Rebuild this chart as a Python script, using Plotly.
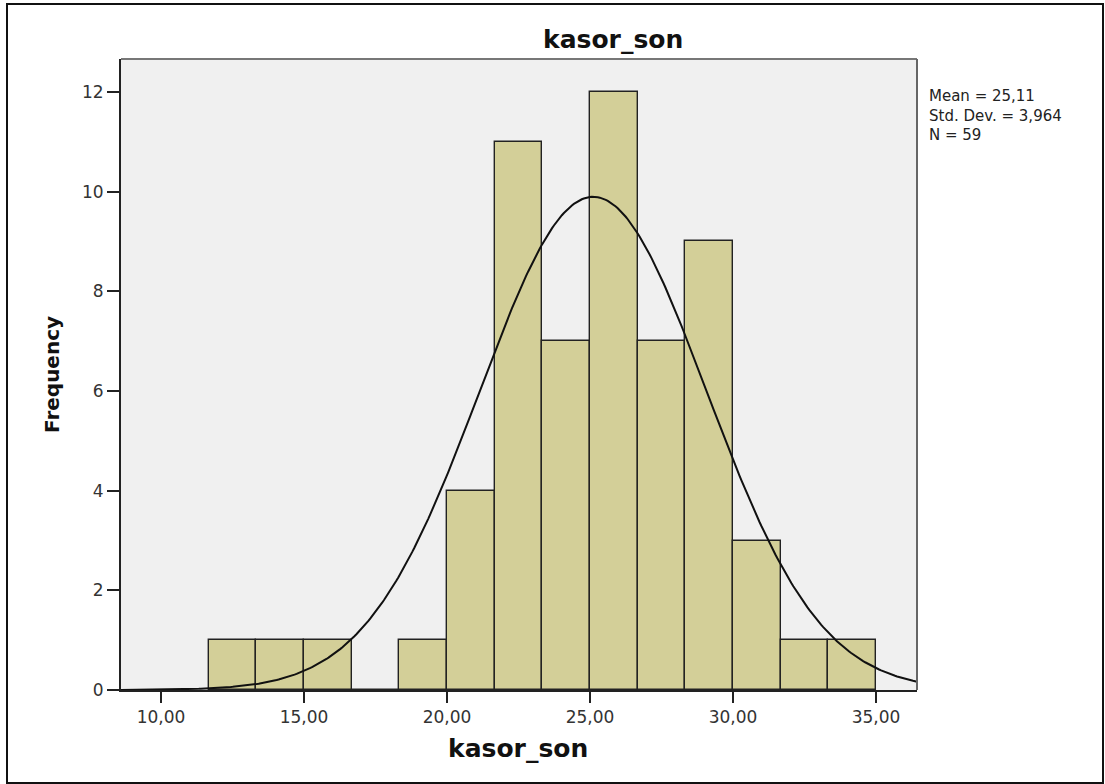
import numpy as np
import plotly.graph_objects as go

# ---- data ----
bin_edges = [11.6667, 13.3333, 15.0, 16.6667, 18.3333, 20.0, 21.6667,
             23.3333, 25.0, 26.6667, 28.3333, 30.0, 31.6667, 33.3333, 35.0]
counts = [1, 1, 1, 0, 1, 4, 11, 7, 12, 7, 9, 3, 1, 1]
x_tick_vals = [10, 15, 20, 25, 30, 35]
x_tick_text = ["10,00", "15,00", "20,00", "25,00", "30,00", "35,00"]
y_tick_vals = [0, 2, 4, 6, 8, 10, 12]
y_tick_text = ["0", "2", "4", "6", "8", "10", "12"]
stats_mean = 25.11
stats_sd = 3.964
stats_n = 59
stat_lines = ["Mean = 25,11", "Std. Dev. = 3,964", "N = 59"]
title_text = "kasor_son"
x_title = "kasor_son"
y_title = "Frequency"

# ---- geometry ----
W, H = 1105, 784
PL, PR, PT, PB = 121, 917, 59, 690
x_range = [8.601, 36.434]
y_range = [0, 12.662]

def px(xp):
    return (xp - PL) / (PR - PL)

def py(yp):
    return (PB - yp) / (PB - PT)

edges = np.array(bin_edges)
centers = (edges[:-1] + edges[1:]) / 2
widths = edges[1:] - edges[:-1]
bw = float(np.mean(widths))

xs = np.linspace(x_range[0], x_range[1], 400)
ys = stats_n * bw * np.exp(-0.5 * ((xs - stats_mean) / stats_sd) ** 2) / (stats_sd * np.sqrt(2 * np.pi))

fig = go.Figure()
fig.add_trace(go.Bar(
    x=centers, y=counts, width=widths,
    marker=dict(color="#d3cf98", line=dict(color="#222222", width=1.4)),
    hoverinfo="x+y", showlegend=False,
))
fig.add_trace(go.Scatter(
    x=xs, y=ys, mode="lines",
    line=dict(color="#111111", width=2),
    hoverinfo="skip", showlegend=False,
))

fig.update_layout(
    width=W, height=H,
    margin=dict(l=PL, r=W - PR, t=PT, b=H - PB, pad=0),
    paper_bgcolor="white",
    plot_bgcolor="#f0f0f0",
    bargap=0,
    font=dict(family="DejaVu Sans", color="#333333"),
    xaxis=dict(
        range=x_range, showgrid=False, zeroline=False,
        tickmode="array", tickvals=x_tick_vals, ticktext=x_tick_text,
        ticks="outside", ticklen=11, tickwidth=2, tickcolor="#222222",
        showline=True, linecolor="#222222", linewidth=2,
        tickfont=dict(family="DejaVu Sans", size=17, color="#333333"),
    ),
    yaxis=dict(
        range=y_range, showgrid=False, zeroline=False,
        tickmode="array", tickvals=y_tick_vals, ticktext=y_tick_text,
        ticks="outside", ticklen=12, tickwidth=2, tickcolor="#222222",
        showline=True, linecolor="#222222", linewidth=2,
        tickfont=dict(family="DejaVu Sans", size=17, color="#333333"),
    ),
)

# plot-area border (top/right gray)
fig.add_shape(type="line", xref="paper", yref="paper", x0=0, x1=1, y0=1, y1=1,
              line=dict(color="#777777", width=2))
fig.add_shape(type="line", xref="paper", yref="paper", x0=1, x1=1, y0=0, y1=1,
              line=dict(color="#666666", width=2))
# outer frame
fig.add_shape(type="rect", xref="paper", yref="paper",
              x0=px(7), x1=px(1103), y0=py(783), y1=py(4),
              line=dict(color="#111111", width=2), fillcolor="rgba(0,0,0,0)", layer="above")

# title
fig.add_annotation(text=f"<b>{title_text}</b>", xref="paper", yref="paper",
                   x=px(613), y=py(40), xanchor="center", yanchor="middle",
                   showarrow=False, font=dict(family="DejaVu Sans", size=25, color="#111111"))
# x title
fig.add_annotation(text=f"<b>{x_title}</b>", xref="paper", yref="paper",
                   x=px(518), y=py(748), xanchor="center", yanchor="middle",
                   showarrow=False, font=dict(family="DejaVu Sans", size=25, color="#111111"))
# y title
fig.add_annotation(text=f"<b>{y_title}</b>", xref="paper", yref="paper",
                   x=px(52), y=py(375), xanchor="center", yanchor="middle", textangle=-90,
                   showarrow=False, font=dict(family="DejaVu Sans", size=20, color="#111111"))
# stats text
fig.add_annotation(text="<br>".join(stat_lines), xref="paper", yref="paper",
                   x=px(927), y=py(115), xanchor="left", yanchor="middle", align="left",
                   showarrow=False, font=dict(family="DejaVu Sans", size=15, color="#222222"))

fig.write_html("out.html")
